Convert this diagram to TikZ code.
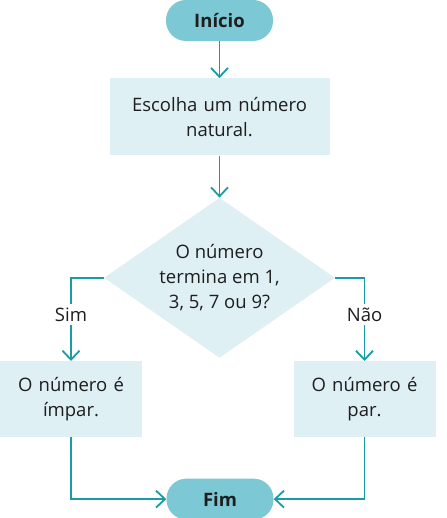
\documentclass[tikz,border=0pt]{standalone}
\usepackage{fontspec}
\setmainfont{Open Sans}
\usepackage{xcolor}
\usepackage{tikz}
\usetikzlibrary{arrows.meta, positioning, shapes.geometric}

\definecolor{flowline}{HTML}{1A9CA3}
\definecolor{pillfill}{HTML}{7CC8D4}
\definecolor{boxfill}{HTML}{DFF0F5}
\definecolor{textcol}{HTML}{1E1E1E}

\begin{document}
\begin{tikzpicture}[
        terminal/.style={rectangle, rounded corners=20pt, fill=pillfill, minimum width=107pt, minimum height=41pt, text=textcol, font=\fontsize{18.5}{25}\selectfont\bfseries},
        process/.style={rectangle, fill=boxfill, text centered, text width=205pt, minimum width=220pt, minimum height=77pt, text=textcol, font=\fontsize{18.5}{25}\selectfont},
        smallprocess/.style={rectangle, fill=boxfill, text centered, text width=134pt, minimum width=142pt, minimum height=76pt, text=textcol, font=\fontsize{18.5}{25}\selectfont},
        decision/.style={diamond, fill=boxfill, align=center, inner sep=0pt, shape aspect=1.44, minimum width=231pt, minimum height=160pt, text=textcol, font=\fontsize{18.5}{25}\selectfont},
        flow/.style={-{Straight Barb[length=9pt, width=17pt]}, line width=1.8pt, draw=flowline},
        answer/.style={fill=white, text=textcol, font=\fontsize{18.5}{25}\selectfont}
        ]
        \useasboundingbox (0pt,0pt) rectangle (446pt,-518pt);

        % Nodes
        \node[terminal] (start) at (219.5pt,-20.5pt) {Início};
        \node[process, below=37pt of start] (choose) {Escolha um número\\natural.};
        \node[decision, below=42pt of choose] (test) {O número\\termina em 1,\\3, 5, 7 ou 9?};
        \node[smallprocess, below=3pt of test, xshift=-148.5pt] (odd) {O número é\\ímpar.};
        \node[smallprocess, below=3pt of test, xshift=145pt] (even) {O número é\\par.};
        \node[terminal, below=41pt of odd, xshift=149pt] (stop) {Fim};

        % Connectors
        \draw[flow] (start) -- (choose);
        \draw[flow] (choose) -- (test);
        \draw[flow] (test.west) -| (odd.north) node[pos=0.72, answer] {Sim};
        \draw[flow] (test.east) -| (even.north) node[pos=0.72, answer] {Não};
        \draw[flow] (odd.south) |- (stop.west);
        \draw[flow] (even.south) |- (stop.east);
\end{tikzpicture}
\end{document}
